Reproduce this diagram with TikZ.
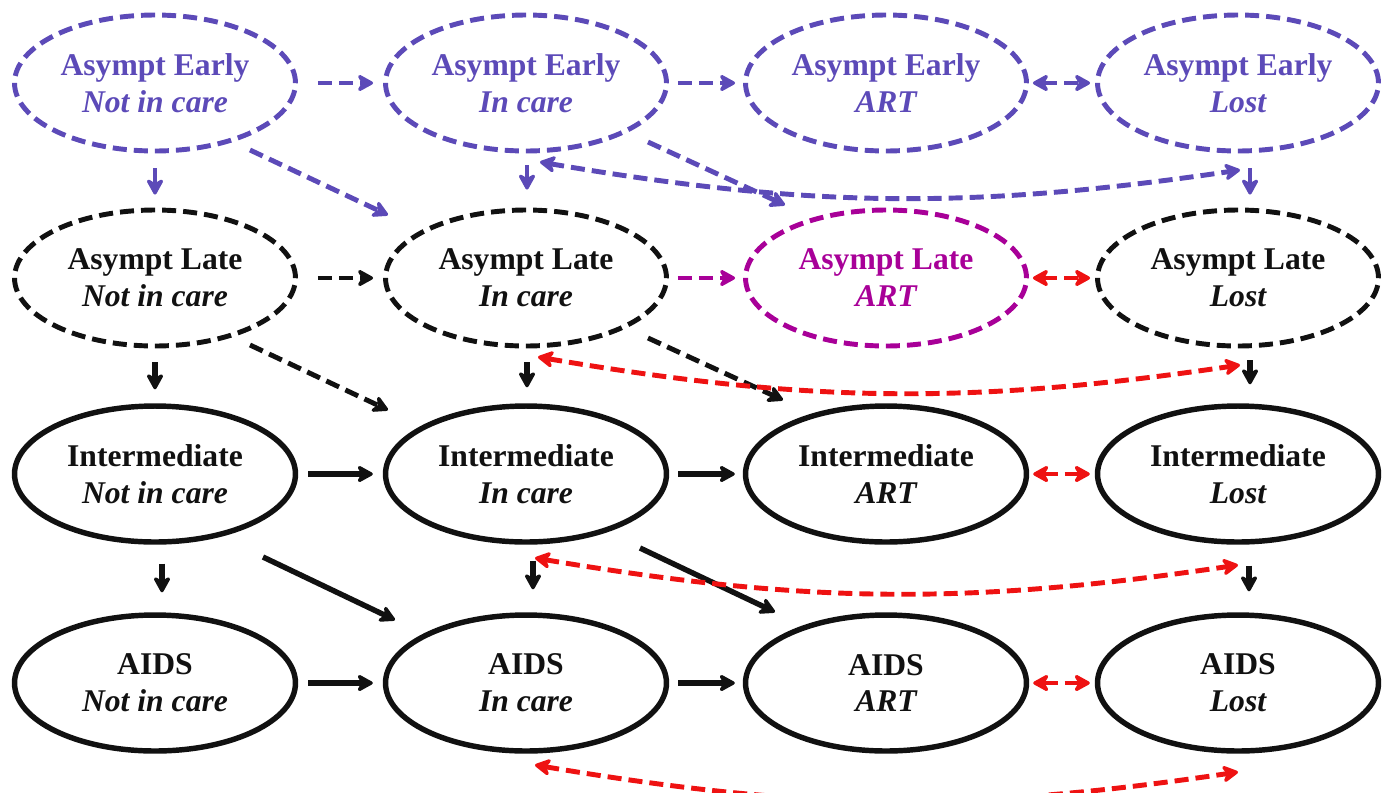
\documentclass[tikz,border=0pt]{standalone}
\usepackage{fontspec}
\setmainfont{Liberation Serif}
\usetikzlibrary{shapes.geometric,arrows.meta,calc}

\definecolor{earlyblue}{RGB}{92,74,184}
\definecolor{artmagenta}{RGB}{168,0,152}
\definecolor{lostred}{RGB}{238,18,18}
\definecolor{inkblack}{RGB}{17,17,17}

\tikzset{
  stage/.style={ellipse, minimum width=5.62cm, minimum height=2.72cm, inner sep=0pt,
    align=center, font=\fontsize{18}{21}\selectfont\bfseries},
  dashes/.style={dash pattern=on 8pt off 4pt},
  early/.style={stage, draw=earlyblue, text=earlyblue, line width=2.8pt, dashes},
  late/.style={stage, draw=inkblack, text=inkblack, line width=2.8pt, dashes},
  lateart/.style={late, draw=artmagenta, text=artmagenta},
  sick/.style={stage, draw=inkblack, text=inkblack, line width=3.1pt},
  >={Stealth[length=11pt,width=12pt,inset=3.5pt,round]},
  parr/.style={->, earlyblue, line width=2.8pt, dashes},
  pvarr/.style={->, earlyblue, line width=2.8pt},
  karr/.style={->, inkblack, line width=2.8pt, dashes},
  kvarr/.style={->, inkblack, line width=3.1pt},
  marr/.style={->, artmagenta, line width=2.8pt, dashes},
  rarr/.style={<->, lostred, line width=2.8pt, dashes},
}

\begin{document}
\begin{tikzpicture}[x=0.02cm, y=-0.02cm]
  \useasboundingbox (0,0) rectangle (1389,792);

  % stages
  \node[early] (einc) at (155,83) {Asympt Early\\\itshape Not in care};
  \node[early] (eic) at (526,83) {Asympt Early\\\itshape In care};
  \node[early] (eart) at (886,83) {Asympt Early\\\itshape ART};
  \node[early] (elost) at (1238,83) {Asympt Early\\\itshape Lost};

  \node[late] (lnic) at (155,278) {Asympt Late\\\itshape Not in care};
  \node[late] (lic) at (526,278) {Asympt Late\\\itshape In care};
  \node[lateart] (lart) at (886,278) {Asympt Late\\\itshape ART};
  \node[late] (llost) at (1238,278) {Asympt Late\\\itshape Lost};

  \node[sick] (inic) at (155,474) {Intermediate\\\itshape Not in care};
  \node[sick] (iic) at (526,474) {Intermediate\\\itshape In care};
  \node[sick] (iart) at (886,474) {Intermediate\\\itshape ART};
  \node[sick] (ilost) at (1238,474) {Intermediate\\\itshape Lost};

  \node[sick] (anic) at (155,683) {AIDS\\\itshape Not in care};
  \node[sick] (aic) at (526,683) {AIDS\\\itshape In care};
  \node[sick] (aart) at (886,683) {AIDS\\\itshape ART};
  \node[sick] (alost) at (1238,683) {AIDS\\\itshape Lost};

  % across
  \draw[parr, shorten <=0.4cm, shorten >=0.2cm] (einc.east) -- (eic.west);
  \draw[parr, shorten <=0.18cm, shorten >=0.16cm] (eic.east) -- (eart.west);
  \draw[parr, <->, shorten <=0.08cm, shorten >=0.1cm] (eart.east) -- (elost.west);
  \draw[karr, shorten <=0.4cm, shorten >=0.2cm] (lnic.east) -- (lic.west);
  \draw[marr, shorten <=0.18cm, shorten >=0.16cm] (lic.east) -- (lart.west);
  \draw[rarr, shorten <=0.08cm, shorten >=0.1cm] (lart.east) -- (llost.west);
  \draw[kvarr, shorten <=0.2cm, shorten >=0.2cm] (inic.east) -- (iic.west);
  \draw[kvarr, shorten <=0.18cm, shorten >=0.16cm] (iic.east) -- (iart.west);
  \draw[rarr, shorten <=0.08cm, shorten >=0.1cm] (iart.east) -- (ilost.west);
  \draw[kvarr, shorten <=0.2cm, shorten >=0.2cm] (anic.east) -- (aic.west);
  \draw[kvarr, shorten <=0.18cm, shorten >=0.16cm] (aic.east) -- (aart.west);
  \draw[rarr, shorten <=0.08cm, shorten >=0.1cm] (aart.east) -- (alost.west);

  % down
  \draw[pvarr, shorten <=0.3cm, shorten >=0.26cm] (einc.south) -- (lnic.north);
  \draw[pvarr, shorten <=0.24cm, shorten >=0.36cm] ([xshift=0.02cm]eic.south) -- ([xshift=0.02cm]lic.north);
  \draw[pvarr, shorten <=0.3cm, shorten >=0.26cm] ([xshift=0.24cm]elost.south) -- ([xshift=0.24cm]llost.north);
  \draw[kvarr, shorten <=0.28cm, shorten >=0.28cm] (lnic.south) -- (inic.north);
  \draw[kvarr, shorten <=0.28cm, shorten >=0.32cm] ([xshift=0.02cm]lic.south) -- ([xshift=0.02cm]iic.north);
  \draw[kvarr, shorten <=0.24cm, shorten >=0.38cm] ([xshift=0.24cm]llost.south) -- ([xshift=0.24cm]ilost.north);
  \draw[kvarr, shorten <=0.38cm, shorten >=0.4cm] ([xshift=0.14cm]inic.south) -- ([xshift=0.14cm]anic.north);
  \draw[kvarr, shorten <=0.32cm, shorten >=0.46cm] ([xshift=0.14cm]iic.south) -- ([xshift=0.14cm]aic.north);
  \draw[kvarr, shorten <=0.42cm, shorten >=0.42cm] ([xshift=0.22cm]ilost.south) -- ([xshift=0.22cm]alost.north);

  % diagonal
  \draw[parr] ($(einc)+(95,67)$) -- ($(lic)+(-138,-63)$);
  \draw[parr] ($(eic)+(122,59)$) -- ($(lart)+(-101,-73)$);
  \draw[karr] ($(lnic)+(95,67)$) -- ($(iic)+(-138,-64)$);
  \draw[karr] ($(lic)+(122,60)$) -- ($(iart)+(-103,-74)$);
  \draw[kvarr] ($(inic)+(108,83)$) -- ($(aic)+(-131,-63)$);
  \draw[kvarr] ($(iic)+(114,74)$) -- ($(aart)+(-111,-71)$);

  % lost and back
  \draw[parr, <->] ($(eic)+(14,79)$) to[bend right=9] ($(elost)+(2,87)$);
  \draw[rarr] ($(lic)+(12,79)$) to[bend right=9] ($(llost)+(2,87)$);
  \draw[rarr] ($(iic)+(9,84)$) to[bend right=9] ($(ilost)+(0,91)$);
  \draw[rarr] ($(aic)+(9,82)$) to[bend right=9] ($(alost)+(0,89)$);
\end{tikzpicture}
\end{document}
